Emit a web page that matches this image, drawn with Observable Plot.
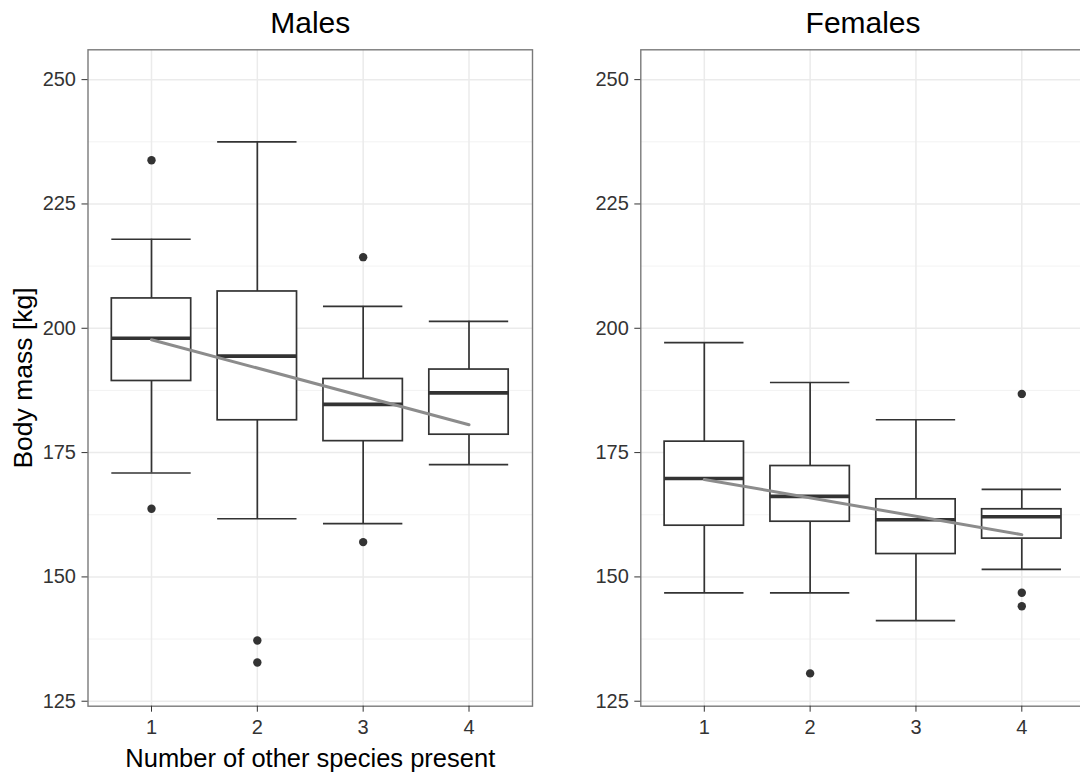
<!DOCTYPE html>
<html><head><meta charset="utf-8">
<script src="https://cdn.jsdelivr.net/npm/d3@7"></script>
<script src="https://cdn.jsdelivr.net/npm/@observablehq/plot@0.6"></script>
<style>
body{margin:0;background:#fff;}
#wrap{width:1080px;height:775px;overflow:hidden;display:flex;background:#fff;}
#wrap svg{flex:none;}
</style></head><body><div id="wrap"></div>
<script>
// Categories and tick labels
const categories = [1, 2, 3, 4];
const yTicks = [125, 150, 175, 200, 225, 250];
const yMinorTicks = [137.5, 162.5, 187.5, 212.5, 237.5];

// Males
const maleLow    = [170.9, 161.7, 160.7, 172.6];
const maleQ1     = [189.4, 181.5, 177.3, 178.6];
const maleMedian = [198.0, 194.4, 184.7, 187.0];
const maleQ3     = [206.0, 207.4, 189.8, 191.7];
const maleHigh   = [217.9, 237.5, 204.4, 201.4];
const maleOutlierCat = [1, 1, 2, 2, 3, 3];
const maleOutlierVal = [233.8, 163.7, 137.2, 132.8, 214.3, 157.0];
const maleTrendX = [1, 4];
const maleTrendY = [197.7, 180.6];

// Females
const femaleLow    = [146.8, 146.8, 141.2, 151.5];
const femaleQ1     = [160.3, 161.1, 154.6, 157.7];
const femaleMedian = [169.8, 166.2, 161.5, 162.1];
const femaleQ3     = [177.2, 172.3, 165.6, 163.6];
const femaleHigh   = [197.1, 189.1, 181.6, 167.6];
const femaleOutlierCat = [2, 4, 4, 4];
const femaleOutlierVal = [130.6, 186.8, 146.8, 144.1];
const femaleTrendX = [1, 4];
const femaleTrendY = [169.6, 158.5];

const FONT = "Liberation Sans, Arial, Helvetica, sans-serif";
const HALF = 0.375;
const INK = "#333333";

function rowsOf(low, q1, med, q3, high) {
  return categories.map((c, i) => ({cat: c, low: low[i], q1: q1[i], median: med[i], q3: q3[i], high: high[i]}));
}
function pts(xs, ys) { return xs.map((x, i) => ({x, y: ys[i]})); }

function panel({title, rows, outliers, trend, width, marginLeft, yLabel, xLabel}) {
  const marks = [
    Plot.ruleY(yMinorTicks, {stroke: "#f2f2f2", strokeWidth: 0.9}),
    Plot.ruleY(yTicks, {stroke: "#ebebeb", strokeWidth: 1.5}),
    Plot.ruleX(categories, {stroke: "#ebebeb", strokeWidth: 1.5}),
    Plot.ruleX(rows, {x: "cat", y1: "low", y2: "high", stroke: INK, strokeWidth: 1.7}),
    Plot.ruleY(rows, {y: "low", x1: d => d.cat - HALF, x2: d => d.cat + HALF, stroke: INK, strokeWidth: 1.7}),
    Plot.ruleY(rows, {y: "high", x1: d => d.cat - HALF, x2: d => d.cat + HALF, stroke: INK, strokeWidth: 1.7}),
    Plot.rect(rows, {x1: d => d.cat - HALF, x2: d => d.cat + HALF, y1: "q1", y2: "q3", fill: "white", stroke: INK, strokeWidth: 1.7}),
    Plot.ruleY(rows, {y: "median", x1: d => d.cat - HALF, x2: d => d.cat + HALF, stroke: INK, strokeWidth: 3.6}),
    Plot.dot(outliers, {x: "x", y: "y", r: 4.2, fill: INK, stroke: null}),
    Plot.line(trend, {x: "x", y: "y", stroke: "#8c8c8c", strokeWidth: 3}),
    Plot.frame({stroke: "#7a7a7a", strokeWidth: 1.4}),
    Plot.axisX(categories, {label: null, tickSize: 6, tickPadding: 8, fontSize: 20, color: INK}),
    Plot.axisY(yTicks, {label: null, tickSize: 6, tickPadding: 6, fontSize: 20, color: INK}),
    Plot.text([title], {text: d => d, frameAnchor: "top", lineAnchor: "middle", textAnchor: "middle", dy: -26.4, fontSize: 30, fill: "black"})
  ];
  if (yLabel) marks.push(Plot.text([yLabel], {text: d => d, frameAnchor: "left", lineAnchor: "middle", textAnchor: "middle", dx: -64, rotate: -90, fontSize: 26.5, fill: "black"}));
  if (xLabel) marks.push(Plot.text([xLabel], {text: d => d, frameAnchor: "bottom", lineAnchor: "middle", textAnchor: "middle", dy: 52.6, fontSize: 25.5, fill: "black"}));
  return Plot.plot({
    width, height: 775,
    marginLeft, marginRight: width - marginLeft - 444.5, marginTop: 49.3, marginBottom: 69.3,
    style: {fontFamily: FONT, background: "white", color: INK},
    x: {type: "linear", domain: [0.4, 4.6]},
    y: {type: "linear", domain: [124, 256]},
    marks
  });
}

const wrap = document.getElementById("wrap");
wrap.appendChild(panel({
  title: "Males",
  rows: rowsOf(maleLow, maleQ1, maleMedian, maleQ3, maleHigh),
  outliers: pts(maleOutlierCat, maleOutlierVal),
  trend: pts(maleTrendX, maleTrendY),
  width: 550, marginLeft: 87.5,
  yLabel: "Body mass [kg]", xLabel: "Number of other species present"
}));
wrap.appendChild(panel({
  title: "Females",
  rows: rowsOf(femaleLow, femaleQ1, femaleMedian, femaleQ3, femaleHigh),
  outliers: pts(femaleOutlierCat, femaleOutlierVal),
  trend: pts(femaleTrendX, femaleTrendY),
  width: 552.8, marginLeft: 90.3
}));
</script></body></html>
